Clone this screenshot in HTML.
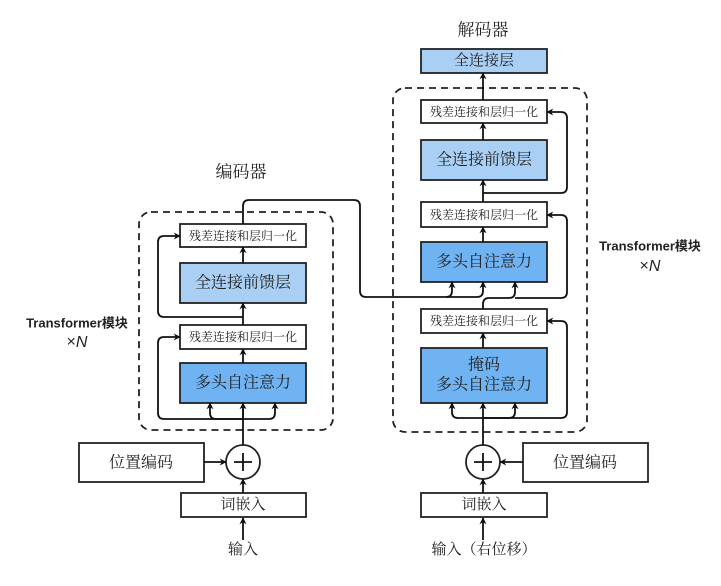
<!DOCTYPE html>
<html><head><meta charset="utf-8"><style>
html,body{margin:0;padding:0;background:#fff}
svg{display:block}
text{font-family:"Liberation Serif","Noto Serif CJK SC",serif;fill:#222;text-anchor:middle;dominant-baseline:central}
.s{font-family:"Liberation Sans","Noto Sans CJK SC",sans-serif;font-weight:bold}
</style></head><body>
<svg width="721" height="586" viewBox="0 0 721 586" xmlns="http://www.w3.org/2000/svg">
<defs>
<marker id="a" viewBox="0 0 10 10" refX="9" refY="5" markerWidth="7" markerHeight="7" markerUnits="userSpaceOnUse" orient="auto"><path d="M0,0 L10,5 L0,10 L3,5z" fill="#111"/></marker>
</defs>
<g fill="none" stroke="#222" stroke-width="1.8" stroke-dasharray="7,5">
<rect x="139" y="212" width="194" height="218" rx="12"/>
<rect x="393" y="88" width="194" height="344" rx="12"/>
</g>
<g stroke="#222" stroke-width="1.8">
<rect x="180" y="224" width="126" height="23" fill="#fff"/>
<rect x="180" y="263" width="126" height="40" fill="#a9cff5"/>
<rect x="180" y="325" width="126" height="24" fill="#fff"/>
<rect x="180" y="363" width="126" height="40" fill="#6fb3f2"/>
<rect x="79" y="443" width="125" height="39" fill="#fff"/>
<rect x="181" y="493" width="125" height="24" fill="#fff"/>
<circle cx="243" cy="462" r="17" fill="#fff"/>
<rect x="421" y="49" width="126" height="24" fill="#a9cff5"/>
<rect x="421" y="100" width="126" height="23" fill="#fff"/>
<rect x="421" y="140" width="126" height="40" fill="#a9cff5"/>
<rect x="421" y="202" width="126" height="25" fill="#fff"/>
<rect x="421" y="242" width="126" height="40" fill="#6fb3f2"/>
<rect x="421" y="309" width="126" height="24" fill="#fff"/>
<rect x="421" y="348" width="126" height="55" fill="#6fb3f2"/>
<rect x="523" y="443" width="125" height="39" fill="#fff"/>
<rect x="421" y="493" width="126" height="24" fill="#fff"/>
<circle cx="483" cy="462" r="17" fill="#fff"/>
</g>
<g stroke="#111" stroke-width="1.8" fill="none">
<path d="M234,462h18M243,453v18"/>
<path d="M474,462h18M483,453v18"/>
<path d="M243,540V518" marker-end="url(#a)"/>
<path d="M243,493V479" marker-end="url(#a)"/>
<path d="M204,462H226" marker-end="url(#a)"/>
<path d="M243,445V403" />
<path d="M243,419V403" marker-end="url(#a)"/>
<path d="M243,419H216q-6,0-6,-6V403" marker-end="url(#a)"/>
<path d="M243,419H269q6,0 6,-6V403" marker-end="url(#a)"/>
<path d="M243,419H164q-6,0-6,-6V343q0,-6 6,-6H180" marker-end="url(#a)"/>
<path d="M243,363V349" marker-end="url(#a)"/>
<path d="M243,325V303" marker-end="url(#a)"/>
<path d="M243,317H164q-6,0-6,-6V242q0,-6 6,-6H180" marker-end="url(#a)"/>
<path d="M243,263V247" marker-end="url(#a)"/>
<path d="M243,224V206q0,-6 6,-6H354q6,0 6,6V291q0,6 6,6H477q6,0 6,-6V282" marker-end="url(#a)"/>
<path d="M446,297q6,0 6,-6V282" marker-end="url(#a)"/>
<path d="M483,540V518" marker-end="url(#a)"/>
<path d="M483,493V479" marker-end="url(#a)"/>
<path d="M523,462H500" marker-end="url(#a)"/>
<path d="M483,445V403" marker-end="url(#a)"/>
<path d="M483,418H458q-6,0-6,-6V403" marker-end="url(#a)"/>
<path d="M483,418H509q6,0 6,-6V403" marker-end="url(#a)"/>
<path d="M483,418H561q6,0 6,-6V327q0,-6-6,-6H547" marker-end="url(#a)"/>
<path d="M483,348V333" marker-end="url(#a)"/>
<path d="M483,309V304q0,-6 6,-6H509q6,0 6,-6V282" marker-end="url(#a)"/>
<path d="M515,298H561q6,0 6,-6V221q0,-6-6,-6H547" marker-end="url(#a)"/>
<path d="M483,242V227" marker-end="url(#a)"/>
<path d="M483,202V180" marker-end="url(#a)"/>
<path d="M483,193H561q6,0 6,-6V118q0,-6-6,-6H547" marker-end="url(#a)"/>
<path d="M483,140V123" marker-end="url(#a)"/>
<path d="M483,100V73" marker-end="url(#a)"/>
</g>
<g>
<text x="241" y="172" font-size="17">编码器</text>
<text x="483" y="30" font-size="17">解码器</text>
<text x="243" y="236" font-size="12">残差连接和层归一化</text>
<text x="243" y="283" font-size="16">全连接前馈层</text>
<text x="243" y="337" font-size="12">残差连接和层归一化</text>
<text x="243" y="383" font-size="16">多头自注意力</text>
<text x="141" y="463" font-size="16">位置编码</text>
<text x="243" y="505" font-size="15">词嵌入</text>
<text x="243" y="550" font-size="15">输入</text>
<text x="484" y="61" font-size="15">全连接层</text>
<text x="484" y="112" font-size="12">残差连接和层归一化</text>
<text x="484" y="160" font-size="16">全连接前馈层</text>
<text x="484" y="215" font-size="12">残差连接和层归一化</text>
<text x="484" y="262" font-size="16">多头自注意力</text>
<text x="484" y="321" font-size="12">残差连接和层归一化</text>
<text x="484" y="365" font-size="16">掩码</text>
<text x="484" y="385" font-size="16">多头自注意力</text>
<text x="585" y="463" font-size="16">位置编码</text>
<text x="484" y="505" font-size="15">词嵌入</text>
<text x="484" y="550" font-size="15">输入（右位移）</text>
<text class="s" x="77" y="323" font-size="13">Transformer模块</text>
<text class="s" x="77" y="342" font-size="16" style="font-weight:normal">×<tspan font-style="italic">N</tspan></text>
<text class="s" x="650" y="246" font-size="13">Transformer模块</text>
<text class="s" x="650" y="266" font-size="16" style="font-weight:normal">×<tspan font-style="italic">N</tspan></text>
</g>
</svg>
</body></html>
